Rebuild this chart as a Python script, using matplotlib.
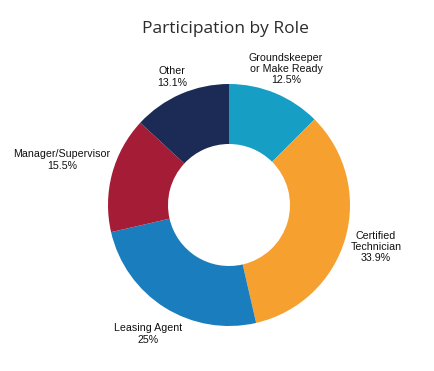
import matplotlib.pyplot as plt

roles = ['Groundskeeper\nor Make Ready', 'Certified\nTechnician', 'Leasing Agent',
         'Manager/Supervisor', 'Other']
shares = [12.5, 33.9, 25, 15.5, 13.1]
share_labels = ['12.5%', '33.9%', '25%', '15.5%', '13.1%']
colors = ['#169ec4', '#f6a12f', '#1a7dbd', '#a51c36', '#1c2b55']

# label anchor points in pixel space (y measured from top)
label_pos = [(286, 69), (376, 247), (148, 334), (62, 160), (172, 77)]

W, H = 434, 371
fig = plt.figure(figsize=(W / 100, H / 100), dpi=100, facecolor='w')
ax = fig.add_axes([0, 0, 1, 1])

ax.pie(shares, colors=colors, startangle=90, counterclock=False,
       center=(229, H - 205), radius=121,
       wedgeprops=dict(width=60, linewidth=0))
# pie resets the limits, so set them afterwards
ax.set_xlim(0, W)
ax.set_ylim(0, H)
ax.set_aspect('auto')
ax.axis('off')

for name, pct, (x, y) in zip(roles, share_labels, label_pos):
    ax.text(x, H - y, name + '\n' + pct, ha='center', va='center',
            fontsize=7.7, family='Liberation Sans', color='#111111',
            linespacing=1.15)

ax.text(225, H - 29, 'Participation by Role', ha='center', va='center',
        fontsize=12.5, family='Open Sans', color='#2b2b2b')

fig.savefig('out.png', dpi=100, facecolor='w')
